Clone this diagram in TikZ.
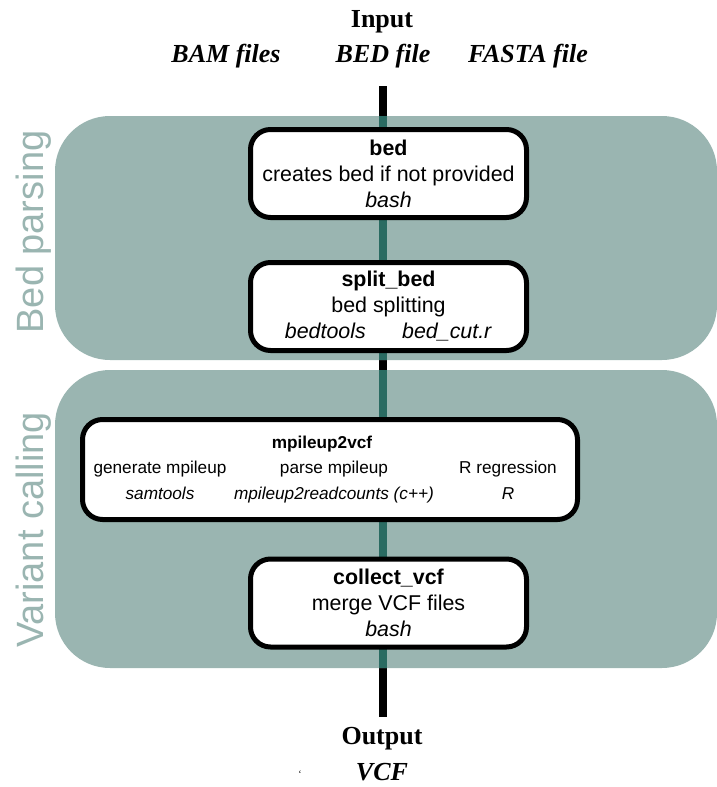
\documentclass[tikz,border=0pt]{standalone}
\usepackage{fontspec}
\setmainfont{Liberation Serif}
\setsansfont{Liberation Sans}
\usetikzlibrary{positioning}

\definecolor{panelgray}{RGB}{154,181,177}
\definecolor{flowteal}{RGB}{42,107,98}
\newcommand{\mpcol}[2]{\makebox[#1pt]{#2}}

\begin{document}
\begin{tikzpicture}[x=1pt, y=-1pt,
  panel/.style={fill=panelgray, rounded corners=55pt, inner sep=0pt},
  sidelabel/.style={text=panelgray, rotate=90, font=\sffamily\fontsize{38}{40}\selectfont},
  stepbox/.style={draw, fill=white, line width=5pt, rounded corners=20pt, align=center,
    minimum width=276pt, minimum height=88pt, inner sep=2pt,
    font=\sffamily\fontsize{21.4}{26}\selectfont},
  iolabel/.style={font=\fontsize{26}{30}\selectfont\bfseries},
  iofile/.style={font=\fontsize{26}{30}\selectfont\bfseries\itshape},
  flow/.style={line width=7.5pt}]

  \useasboundingbox (0,0) rectangle (717,787);

  % input / output
  \node[iolabel] (input) at (382,22) {Input};
  \node[iofile] (bam) at (226,56) {BAM files};
  \node[iofile] (bedfile) at (383,56) {BED file};
  \node[iofile] (fasta) at (528,56) {FASTA file};
  \node[iolabel] (output) at (382,739) {Output};
  \node[iofile] (vcf) at (382,772) {VCF};
  \node[font=\fontsize{10}{12}\selectfont] (tick) at (300,774) {`};

  \coordinate (top) at (383,86);
  \coordinate (bottom) at (383,717);
  \draw[flow] (top) -- (bottom);

  % panels
  \node[panel, minimum width=662pt, minimum height=244pt] (bedpanel) at (386,238) {};
  \node[panel, minimum width=662pt, minimum height=298pt] (varpanel) at (386,519) {};
  \draw[flow, flowteal] (top |- bedpanel.north) -- (top |- bedpanel.south);
  \draw[flow, flowteal] (top |- varpanel.north) -- (top |- varpanel.south);

  \node[sidelabel] (bedlabel) at (34,232) {Bed parsing};
  \node[sidelabel] (varlabel) at (34,530) {Variant calling};

  % steps
  \node[stepbox] (bed) at (388.5,173.5) {\textbf{bed}\\creates bed if not provided\\\textit{bash}};
  \node[stepbox, below=40pt of bed] (splitbed) {\textbf{split\_bed}\\bed splitting\\\textit{bedtools}\hspace{1.7em}\textit{bed\_cut.r}};
  \node[stepbox, minimum width=495pt, minimum height=100pt, inner xsep=-18.5pt,
    font=\sffamily\fontsize{17.2}{25.5}\selectfont] (mpileup) at (330,469.5)
    {\textbf{mpileup2vcf}\hspace*{16pt}\\
     \hspace*{8pt}\mpcol{176}{generate mpileup}\mpcol{172}{parse mpileup}\mpcol{176}{R regression}\\
     \hspace*{8pt}\mpcol{176}{\textit{samtools}}\mpcol{172}{\textit{mpileup2readcounts (c++)}}\mpcol{176}{\textit{R}}};
  \node[stepbox] (collect) at (388.5,603) {\textbf{collect\_vcf}\\merge VCF files\\\textit{bash}};
\end{tikzpicture}
\end{document}
